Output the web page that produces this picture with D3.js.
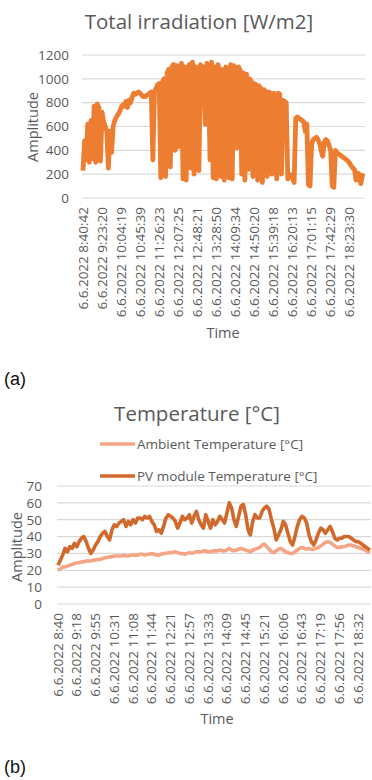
<!DOCTYPE html>
<html>
<head>
<meta charset="utf-8">
<script src="https://cdn.jsdelivr.net/npm/d3@7"></script>
<style>
  body { margin: 0; background: #fff; }
  svg text { font-family: "Open Sans", sans-serif; fill: #595959; }
</style>
</head>
<body>
<div class="chart"></div>
<script>
// ---- data (a): total irradiation, one value per sample, labels every 12th sample
var irrLabels = ["6.6.2022 8:40:42", "6.6.2022 9:23:20", "6.6.2022 10:04:19", "6.6.2022 10:45:39",
  "6.6.2022 11:26:23", "6.6.2022 12:07:25", "6.6.2022 12:48:21", "6.6.2022 13:28:50",
  "6.6.2022 14:09:34", "6.6.2022 14:50:20", "6.6.2022 15:39:18", "6.6.2022 16:20:13",
  "6.6.2022 17:01:15", "6.6.2022 17:42:29", "6.6.2022 18:23:30"];
var irrTicks = [0, 200, 400, 600, 800, 1000, 1200];
var irradiation = [
  230, 480, 320, 620, 300, 650, 330, 770, 300, 790,
  760, 310, 720, 640, 600, 560, 250, 560, 380, 600,
  650, 680, 700, 720, 760, 780, 770, 810, 760, 820,
  800, 850, 880, 870, 880, 890, 880, 860, 850, 850,
  860, 870, 880, 890, 320, 890, 920, 950, 960, 170,
  970, 1000, 180, 1050, 1080, 260, 1100, 1120, 400, 1110,
  430, 1090, 1130, 160, 1100, 150, 1080, 1120, 250, 1140,
  200, 1100, 1080, 230, 1120, 1060, 1100, 620, 1130, 1080,
  320, 1140, 170, 1100, 160, 1120, 1070, 180, 1080, 150,
  1100, 1060, 170, 1120, 160, 1110, 1090, 420, 1100, 1070,
  200, 1050, 150, 1040, 240, 1000, 980, 180, 960, 950,
  150, 940, 920, 130, 910, 890, 180, 890, 880, 200,
  880, 870, 160, 880, 870, 200, 820, 810, 800, 160,
  200, 190, 170, 130, 670, 680, 670, 660, 650, 640,
  560, 620, 110, 100, 450, 490, 500, 510, 490, 460,
  400, 350, 470, 490, 480, 440, 400, 100, 90, 400,
  380, 370, 360, 350, 340, 330, 320, 310, 290, 270,
  250, 240, 150, 210, 200, 120, 190, 180
];

// ---- data (b): temperatures, labels every 8th sample
var tempLabels = ["6.6.2022 8:40", "6.6.2022 9:18", "6.6.2022 9:55", "6.6.2022 10:31",
  "6.6.2022 11:08", "6.6.2022 11:44", "6.6.2022 12:21", "6.6.2022 12:57",
  "6.6.2022 13:33", "6.6.2022 14:09", "6.6.2022 14:45", "6.6.2022 15:21",
  "6.6.2022 16:06", "6.6.2022 16:43", "6.6.2022 17:19", "6.6.2022 17:56",
  "6.6.2022 18:32"];
var tempTicks = [0, 10, 20, 30, 40, 50, 60, 70];
var ambientTemp = [
  20, 21, 22, 22, 22.5, 23, 23.5, 24, 24.5, 24.5,
  25, 25, 25.5, 25.5, 25.5, 26, 26, 26.5, 26.5, 27,
  27.5, 27.5, 28, 28, 28.5, 28.5, 28.5, 28.5, 29, 28.5,
  28.5, 29, 29, 29, 29, 29.5, 29.5, 29, 29.5, 29.5,
  30, 29.5, 29, 29, 29.5, 30, 30, 30.5, 30.5, 30.5,
  31, 30.5, 30, 30, 29.5, 30, 30.5, 30, 30.5, 31,
  31, 31, 31.5, 31.5, 31, 31, 31.5, 31.5, 31.5, 32,
  31.5, 31.5, 32, 33, 32, 31.5, 32, 32.5, 33, 32.5,
  32, 31.5, 31, 32, 32.5, 33, 33.5, 35, 35.5, 34,
  32.5, 31, 30.5, 31.5, 32.5, 33, 32, 31, 30.5, 30,
  30, 31, 32, 33, 33.5, 33, 32.5, 33, 32.5, 32.5,
  33, 33.5, 34.5, 35.5, 36.5, 37, 36.5, 35.5, 34.5, 33.5,
  33.5, 34, 34, 34.5, 35, 35, 34.5, 34, 33.5, 33,
  32.5, 32, 31, 30.5
];
var pvTemp = [
  23, 26, 29, 33, 31, 34, 33, 36, 34, 37,
  39, 40, 37, 33, 30, 32, 35, 37, 40, 42,
  43, 40, 38, 44, 47, 46, 48, 49, 50, 46,
  49, 47, 50, 48, 51, 51, 50, 52, 51, 52,
  49, 47, 43, 44, 42, 46, 51, 53, 52, 51,
  49, 45, 48, 52, 50, 51, 53, 48, 52, 55,
  50, 47, 45, 53, 49, 45, 50, 47, 49, 52,
  50, 48, 54, 60, 57, 50, 46, 52, 58, 59,
  53, 44, 41, 49, 53, 51, 51, 55, 57, 58,
  56, 50, 45, 38, 41, 44, 49, 47, 42, 37,
  35, 40, 46, 50, 52, 51, 48, 41, 37, 35,
  38, 42, 45, 44, 42, 44, 46, 43, 39, 38,
  39, 39, 40, 40, 40, 39, 38, 37, 37, 36,
  35, 34, 33, 32
];
var tempSeries = [
  { name: "Ambient Temperature [°C]", values: ambientTemp, color: "#f3a584" },
  { name: "PV module Temperature [°C]", values: pvTemp, color: "#d0692b" }
];

var svg = d3.select(".chart").append("svg")
  .attr("width", 372)
  .attr("height", 780);

// draws one excel-like line chart
function drawChart(cfg) {
  var g = svg.append("g");

  var x = d3.scaleLinear()
    .domain([0, cfg.count - 1])
    .range([cfg.x0 + 1, cfg.x1 - 1]);
  var y = d3.scaleLinear()
    .domain([0, d3.max(cfg.ticks)])
    .range([cfg.y0, cfg.y1]);

  // title
  g.append("text")
    .attr("x", cfg.titleX)
    .attr("y", cfg.titleY)
    .attr("text-anchor", "middle")
    .style("font-size", "20.5px")
    .text(cfg.title);

  // gridlines
  g.selectAll(".grid")
    .data(cfg.ticks)
    .enter()
    .append("line")
    .attr("x1", cfg.x0)
    .attr("x2", cfg.x1)
    .attr("y1", d => y(d))
    .attr("y2", d => y(d))
    .attr("stroke", "#d9d9d9")
    .attr("stroke-width", 1.2);

  // y axis labels
  var yAxis = d3.axisLeft(y).tickValues(cfg.ticks).tickSize(0).tickPadding(0)
    .tickFormat(d3.format("d"));
  var ya = g.append("g")
    .attr("transform", `translate(${cfg.yLabelX},0)`)
    .call(yAxis);
  ya.select(".domain").remove();
  ya.selectAll("text")
    .style("font-size", "13.5px")
    .style("font-family", "Open Sans, sans-serif")
    .attr("fill", "#595959");

  // x axis labels (every k-th sample)
  var xa = g.append("g");
  xa.selectAll("text")
    .data(cfg.labels)
    .enter()
    .append("text")
    .attr("transform", (d, i) => `translate(${x(i * cfg.k) + 4.5}, ${cfg.xLabelY}) rotate(-90)`)
    .attr("text-anchor", "end")
    .style("font-size", "13.5px")
    .text(d => d);

  // axis titles
  g.append("text")
    .attr("transform", `translate(${cfg.ampX}, ${cfg.ampY}) rotate(-90)`)
    .attr("text-anchor", "middle")
    .style("font-size", "14.5px")
    .text("Amplitude");

  g.append("text")
    .attr("x", cfg.timeX)
    .attr("y", cfg.timeY)
    .attr("text-anchor", "middle")
    .style("font-size", "14.5px")
    .text("Time");

  // lines
  var line = d3.line()
    .x((d, i) => x(i))
    .y(d => y(d));

  cfg.series.forEach(function(s) {
    g.append("path")
      .datum(s.values)
      .attr("d", line)
      .attr("fill", "none")
      .attr("stroke", s.color)
      .attr("stroke-width", cfg.lineWidth)
      .attr("stroke-linejoin", "round");
  });

  // panel letter
  svg.append("text")
    .attr("x", 4)
    .attr("y", cfg.letterY)
    .style("font-family", "Liberation Sans, Arial, sans-serif")
    .style("font-size", "18px")
    .style("fill", "#111")
    .text(cfg.letter);

  return g;
}

drawChart({
  title: "Total irradiation [W/m2]", titleX: 199, titleY: 29,
  count: irradiation.length, k: 12, labels: irrLabels, ticks: irrTicks,
  x0: 82, x1: 365, y0: 198, y1: 55, yLabelX: 69, xLabelY: 207,
  ampX: 38, ampY: 127, timeX: 223, timeY: 338,
  series: [{ values: irradiation, color: "#ed7d31" }],
  lineWidth: 4.8, letter: "(a)", letterY: 385
});

var gb = drawChart({
  title: "Temperature [°C]", titleX: 197, titleY: 421,
  count: pvTemp.length, k: 8, labels: tempLabels, ticks: tempTicks,
  x0: 57, x1: 371, y0: 604, y1: 486, yLabelX: 42, xLabelY: 613,
  ampX: 22, ampY: 547, timeX: 217, timeY: 724,
  series: tempSeries,
  lineWidth: 3.6, letter: "(b)", letterY: 773
});

// legend for (b)
var legend = gb.selectAll(".legend")
  .data(tempSeries)
  .enter()
  .append("g")
  .attr("transform", (d, i) => `translate(100, ${444 + i * 32})`);

legend.append("line")
  .attr("x1", 0)
  .attr("x2", 35)
  .attr("stroke", d => d.color)
  .attr("stroke-width", 3.6);

legend.append("text")
  .attr("x", 37)
  .attr("y", 5)
  .style("font-size", "13.5px")
  .text(d => d.name);
</script>
</body>
</html>
